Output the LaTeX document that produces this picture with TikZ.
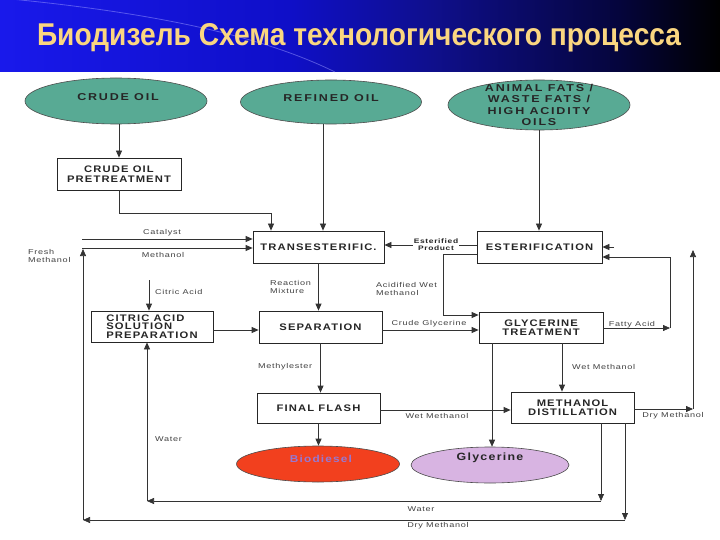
\documentclass[tikz,border=0pt]{standalone}
\usepackage{fontspec}
\setmainfont{Liberation Sans}
\newfontfamily\bxf{Liberation Sans}[FakeStretch=1.18,LetterSpace=12]
\newfontfamily\etf{Liberation Sans}[FakeStretch=1.25,LetterSpace=18]
\newfontfamily\lbf{Liberation Sans}[FakeStretch=1.3,LetterSpace=10]
\usetikzlibrary{arrows.meta,shapes.geometric}
\definecolor{titlec}{RGB}{250,214,128}
\definecolor{tealc}{RGB}{88,170,148}
\definecolor{redc}{RGB}{242,64,30}
\definecolor{glyc}{RGB}{216,180,226}
\definecolor{biot}{RGB}{150,120,210}
\definecolor{bA}{RGB}{25,25,235}
\definecolor{bB}{RGB}{15,15,200}
\definecolor{bC}{RGB}{15,15,140}
\definecolor{bD}{RGB}{5,5,60}
\pgfdeclarehorizontalshading{band}{100bp}{color(0bp)=(bA); color(25bp)=(bA); color(45bp)=(bB); color(55bp)=(bC); color(68bp)=(bD); color(75bp)=(black); color(100bp)=(black)}
\begin{document}
\begin{tikzpicture}[x=1pt,y=-1pt,
  box/.style={draw=black!85, line width=0.75pt, fill=white, inner sep=0pt, align=center,
     font=\bxf\bfseries\fontsize{9.5}{9.5}\selectfont, text=black!85},
  ell/.style={ellipse, draw=black!70, line width=0.6pt, inner sep=0pt},
  etxt/.style={inner sep=0pt, align=center, font=\etf\bfseries\fontsize{10}{11.3}\selectfont, text=black!85},
  conn/.style={draw=black!80, line width=0.75pt},
  arr/.style={conn, -{Triangle[length=7pt,width=6pt]}},
  lbl/.style={font=\lbf\fontsize{7}{8.5}\selectfont, text=black!75, inner sep=0pt, align=left},
  lblb/.style={font=\lbf\bfseries\fontsize{6.5}{6.8}\selectfont, text=black!85, inner sep=0.5pt, align=center}]
\useasboundingbox (0,0) rectangle (720,540);
\fill[white] (0,0) rectangle (720,540);
% title band
\shade[shading=band] (0,0) rectangle (720,72);
\draw[white!60!blue, opacity=0.5, line width=0.8pt] (0,-2) .. controls (150,12) and (260,35) .. (335,72);
\node[anchor=base, text=titlec, inner sep=0pt, font=\bfseries\fontsize{26}{30}\selectfont] (title) at (359,46)
  {\scalebox{1}[1.12]{\resizebox{644pt}{!}{Биодизель Схема технологического процесса}}};
% source ellipses
\node[ell, fill=tealc, minimum width=182pt, minimum height=46pt] (crude) at (116,101) {};
\node[etxt] (crudeT) at (118,97) {CRUDE OIL};
\node[ell, fill=tealc, minimum width=181pt, minimum height=44pt] (refined) at (331,102) {};
\node[etxt] (refinedT) at (331,98) {REFINED OIL};
\node[ell, fill=tealc, minimum width=182pt, minimum height=50pt] (animal) at (539,105) {};
\node[etxt] (animalT) at (539,105) {ANIMAL FATS /\\WASTE FATS /\\HIGH ACIDITY\\OILS};
% process boxes
\node[box, minimum width=124pt, minimum height=32pt] (pre) at (119,174) {CRUDE OIL\\PRETREATMENT};
\node[box, minimum width=131pt, minimum height=32pt] (trans) at (318.5,247) {TRANSESTERIFIC.};
\node[box, minimum width=125pt, minimum height=32pt] (ester) at (539.5,247) {ESTERIFICATION};
\node[box, minimum width=122pt, minimum height=31pt, align=left, font=\bxf\bfseries\fontsize{9.5}{8.6}\selectfont] (citric) at (152,326.5) {CITRIC ACID\\SOLUTION\\PREPARATION};
\node[box, minimum width=123pt, minimum height=32pt] (sep) at (320.5,327) {SEPARATION};
\node[box, minimum width=124pt, minimum height=31pt] (glyt) at (541,327.5) {GLYCERINE\\TREATMENT};
\node[box, minimum width=123pt, minimum height=30pt] (final) at (318.5,408) {FINAL FLASH};
\node[box, minimum width=123pt, minimum height=31pt] (mdist) at (572.5,407.5) {METHANOL\\DISTILLATION};
% product ellipses
\node[ell, fill=redc, minimum width=163pt, minimum height=36pt] (bio) at (318,464) {};
\node[etxt, text=biot, font=\bxf\bfseries\fontsize{10}{12}\selectfont] (bioT) at (321,459) {Biodiesel};
\node[ell, fill=glyc, minimum width=158pt, minimum height=36pt] (gly) at (490,465) {};
\node[etxt, font=\bxf\bfseries\fontsize{10.5}{12}\selectfont] (glyT) at (490,458) {Glycerine};
% helper coordinates
\coordinate (catL) at (82,239);
\coordinate (metL) at (82,248);
\coordinate (caT) at (149,280);
\coordinate (acA) at (443,254);
\coordinate (acB) at (443,315);
\coordinate (faA) at (670,328);
\coordinate (faB) at (670,257);
\coordinate (stub) at (614,247);
\coordinate (dmA) at (693,409);
\coordinate (dmB) at (693,250);
\coordinate (wA) at (601,501);
\coordinate (wB) at (147,501);
\coordinate (dA) at (625,520);
\coordinate (dB) at (83,520);
\coordinate (dC) at (83,249);
% connectors
\draw[arr] (crude.south -| pre.north) -- (pre.north);
\draw[arr] (pre.south) -- (119,213) -- (271,213) -- (271,0 |- trans.north);
\draw[arr] (refined.south -| 323,0) -- (323,0 |- trans.north);
\draw[arr] (animal.south) -- (animal.south |- ester.north);
\draw[arr] (catL) -- (catL -| trans.west);
\draw[arr] (metL) -- (metL -| trans.west);
\draw[arr] (ester.west |- 0,245) -- (trans.east |- 0,245);
\draw[arr] (ester.west |- acA) -- (acA) -- (acB) -- (glyt.west |- acB);
\draw[arr] (trans.south) -- (trans.south |- sep.north);
\draw[arr] (sep.east |- 0,330) -- (glyt.west |- 0,330);
\draw[arr] (caT) -- (caT |- citric.north);
\draw[arr] (citric.east |- 0,330) -- (sep.west |- 0,330);
\draw[arr] (sep.south) -- (sep.south |- final.north);
\draw[arr] (final.south) -- (final.south |- bio.north);
\draw[arr] (final.east |- 0,410) -- (mdist.west |- 0,410);
\draw[arr] (glyt.south -| 562,0) -- (mdist.north -| 562,0);
\draw[arr] (glyt.south -| 492,0) -- (gly.north -| 492,0);
\draw[arr] (glyt.east |- faA) -- (faA);
\draw[conn] (faA) -- (faB);
\draw[arr] (faB) -- (ester.east |- faB);
\draw[arr] (stub) -- (ester.east |- stub);
\draw[arr] (mdist.east |- dmA) -- (dmA);
\draw[arr] (dmA) -- (dmB);
\draw[arr] (mdist.south -| wA) -- (wA);
\draw[arr] (wA) -- (wB);
\draw[arr] (wB) -- (wB |- citric.south);
\draw[arr] (mdist.south -| dA) -- (dA);
\draw[arr] (dA) -- (dB);
\draw[arr] (dB) -- (dC);
% labels
\node[lbl] (lcat) at (162,233) {Catalyst};
\node[lbl] (lmet) at (163,255) {Methanol};
\node[lbl, anchor=west] (lfresh) at (28,256) {Fresh\\Methanol};
\node[lbl, anchor=west] (lcit) at (155,292) {Citric Acid};
\node[lbl, anchor=west] (lrm) at (270,287) {Reaction\\Mixture};
\node[lbl, anchor=west] (lawm) at (376,289) {Acidified Wet\\Methanol};
\node[lblb, fill=white] (lep) at (436,245) {Esterified\\Product};
\node[lbl] (lcg) at (429,324) {Crude Glycerine};
\node[lbl] (lfa) at (632,325) {Fatty Acid};
\node[lbl, anchor=west] (lwm1) at (572,367) {Wet Methanol};
\node[lbl, anchor=west] (lme) at (258,367) {Methylester};
\node[lbl] (lwm2) at (437,416) {Wet Methanol};
\node[lbl] (ldm1) at (673,416) {Dry Methanol};
\node[lbl, anchor=west] (lw1) at (155,439) {Water};
\node[lbl] (lw2) at (421,509) {Water};
\node[lbl] (ldm2) at (438,526) {Dry Methanol};
\end{tikzpicture}
\end{document}
